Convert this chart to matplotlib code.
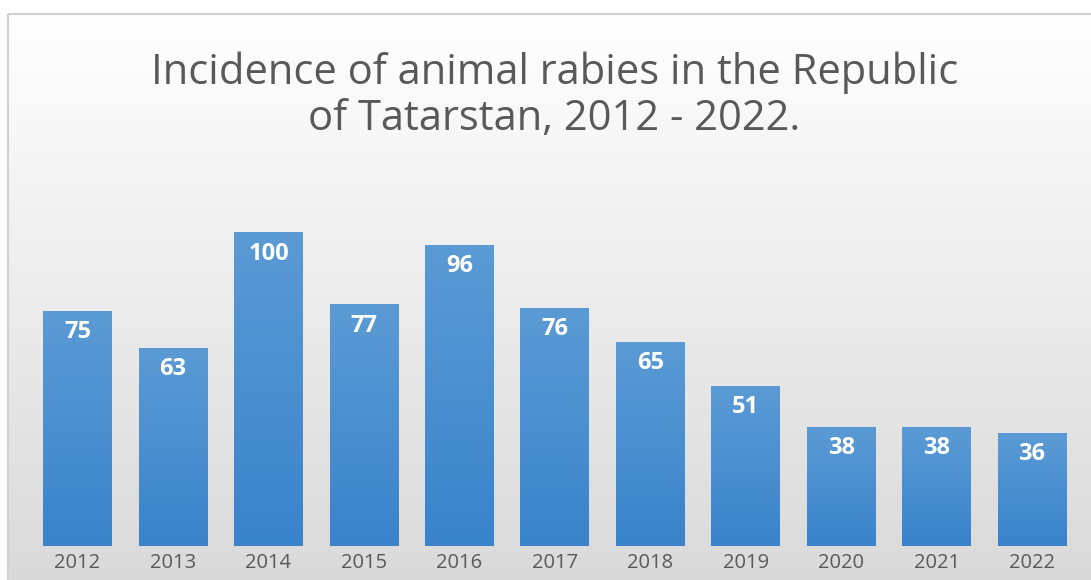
import numpy as np
import matplotlib.pyplot as plt
from matplotlib.patches import Rectangle
from matplotlib.colors import LinearSegmentedColormap

years = ['2012', '2013', '2014', '2015', '2016', '2017', '2018', '2019', '2020', '2021', '2022']
cases = [75, 63, 100, 77, 96, 76, 65, 51, 38, 38, 36]

plt.rcParams['font.family'] = ['Open Sans', 'DejaVu Sans']

fig = plt.figure(figsize=(10.91, 5.80), dpi=100)

# chart area background (white -> light gray), framed
bg = fig.add_axes([0, 0, 1, 1], zorder=0)
bg.set_xlim(0, 1091)
bg.set_ylim(580, 0)
bg.axis('off')
bg_cmap = LinearSegmentedColormap.from_list('bg', ['#ffffff', '#d9d9d9'])
grad = np.linspace(0, 1, 256).reshape(-1, 1)
bg.imshow(grad, cmap=bg_cmap, aspect='auto', extent=[8, 1095, 585, 14], zorder=0)
bg.add_patch(Rectangle((8, 14), 1090, 575, fill=False, edgecolor='#d0d0d0', lw=1.5, zorder=1))

fig.text(0.508, 0.912, 'Incidence of animal rabies in the Republic\nof Tatarstan, 2012 - 2022.',
         ha='center', va='top', fontsize=30, color='#595959', linespacing=1.15)

ax = fig.add_axes([0.0273, 0.0586, 0.9624, 0.6476], zorder=2)
ax.patch.set_alpha(0)
x = np.arange(len(years))
bars = ax.bar(x, cases, width=0.72, color='none', edgecolor='none')

bar_cmap = LinearSegmentedColormap.from_list('bar', ['#5b9bd5', '#3983cb'])
for b in bars:
    x0 = b.get_x()
    ax.imshow(grad, cmap=bar_cmap, aspect='auto',
              extent=[x0, x0 + b.get_width(), 0, b.get_height()], zorder=2)

for xi, v in zip(x, cases):
    ax.text(xi, v - 6.6, str(v), ha='center', va='center', color='white',
            fontsize=17, fontweight='bold', zorder=3)

ax.set_xlim(-0.5, len(years) - 0.5)
ax.set_ylim(0, 120)
ax.set_xticks(x)
ax.set_xticklabels(years, fontsize=14.5, color='#595959')
ax.tick_params(axis='x', length=0, pad=5)
ax.set_yticks([])
for s in ax.spines.values():
    s.set_visible(False)

fig.savefig('out.png', dpi=100)
